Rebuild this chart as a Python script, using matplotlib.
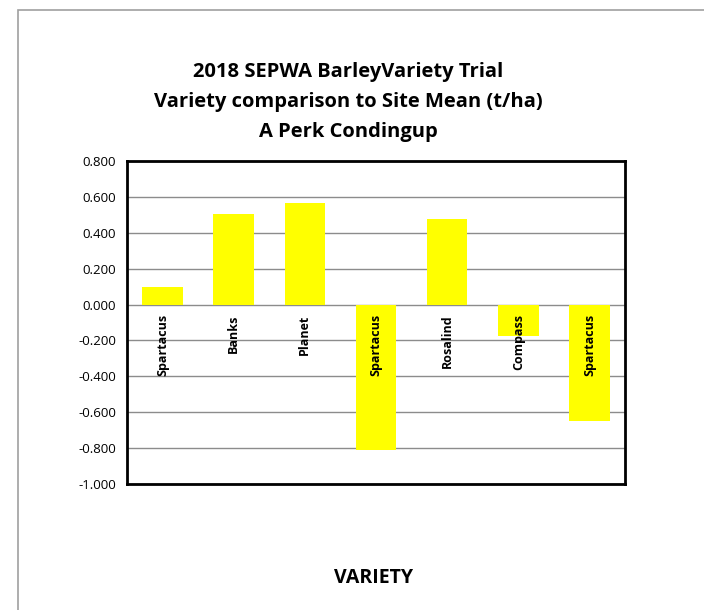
import matplotlib.pyplot as plt
from matplotlib.patches import Rectangle

varieties = ["Spartacus", "Banks", "Planet", "Spartacus", "Rosalind", "Compass", "Spartacus"]
diff = [0.096, 0.505, 0.568, -0.808, 0.474, -0.173, -0.650]
yticks = [-1.0, -0.8, -0.6, -0.4, -0.2, 0.0, 0.2, 0.4, 0.6, 0.8]
title_lines = ["2018 SEPWA BarleyVariety Trial",
               "Variety comparison to Site Mean (t/ha)",
               "A Perk Condingup"]

plt.rcParams['font.family'] = ['Open Sans', 'DejaVu Sans']

W, H = 704, 610
fig = plt.figure(figsize=(W/100, H/100), dpi=100)
ax = fig.add_axes([127/W, 1-484/H, (625-127)/W, (484-161)/H])

# outer chart border (right/bottom edges fall outside the image)
fig.patches.append(Rectangle((18/W, -0.5), 1.5, 1.5-10/H, transform=fig.transFigure,
                             fill=False, edgecolor='#a0a0a0', linewidth=1.2))

x = list(range(len(varieties)))
ax.bar(x, diff, width=0.57, color='#ffff00', zorder=3)

ax.set_xlim(-0.5, len(varieties)-0.5)
ax.set_ylim(-1.0, 0.8)
ax.set_yticks(yticks)
ax.set_yticklabels([f"{v:.3f}" for v in yticks], fontsize=9.5)
ax.tick_params(axis='y', length=0, pad=8)
ax.set_xticks([])
ax.grid(axis='y', color='#8c8c8c', linewidth=1, zorder=0)
for s in ax.spines.values():
    s.set_linewidth(2)
    s.set_color('black')

for i, name in enumerate(varieties):
    ax.annotate(name, (i, 0), xytext=(0, -7), textcoords='offset points',
                rotation=90, ha='center', va='top', fontsize=9,
                fontweight='bold', zorder=4)

for k, line in enumerate(title_lines):
    fig.text(348/W, 1-(72+30*k)/H, line, ha='center', va='center',
             fontsize=14.5, fontweight='bold')
fig.text(374/W, 1-578/H, "VARIETY", ha='center', va='center', fontsize=14, fontweight='bold')

fig.savefig("out.png", dpi=100)
